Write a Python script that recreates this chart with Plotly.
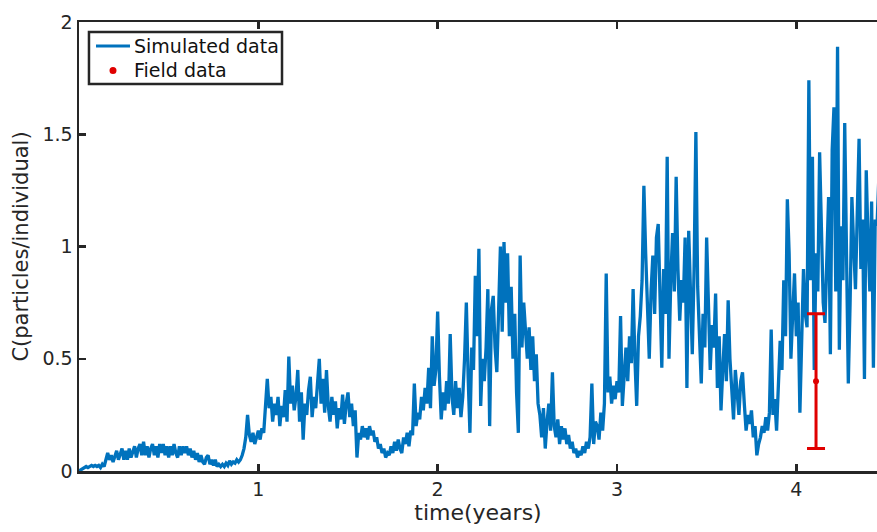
import plotly.graph_objects as go

DT = 0.01  # sampling step of the simulated series (years)

# Simulated concentration C (particles/individual) at 0.01-year steps
sim_c = [
    0.00, 0.005, 0.01, 0.015, 0.02, 0.015, 0.02, 0.025, 0.02, 0.025,
    0.02, 0.025, 0.015, 0.03, 0.02, 0.05, 0.08, 0.05, 0.07, 0.04,
    0.07, 0.09, 0.05, 0.08, 0.10, 0.05, 0.09, 0.05, 0.10, 0.06,
    0.09, 0.11, 0.06, 0.10, 0.12, 0.07, 0.13, 0.07, 0.11, 0.06,
    0.10, 0.12, 0.07, 0.11, 0.06, 0.12, 0.08, 0.12, 0.07, 0.11,
    0.06, 0.11, 0.07, 0.12, 0.08, 0.06, 0.11, 0.07, 0.11, 0.08,
    0.11, 0.07, 0.10, 0.06, 0.09, 0.05, 0.08, 0.04, 0.07, 0.04,
    0.03, 0.06, 0.07, 0.03, 0.05, 0.025, 0.05, 0.02, 0.03, 0.02,
    0.03, 0.02, 0.035, 0.025, 0.045, 0.03, 0.04, 0.035, 0.05, 0.04,
    0.05, 0.07, 0.10, 0.15, 0.25, 0.16, 0.13, 0.17, 0.12, 0.15,
    0.18, 0.14, 0.19, 0.17, 0.30, 0.41, 0.28, 0.33, 0.22, 0.30,
    0.25, 0.33, 0.20, 0.29, 0.24, 0.36, 0.22, 0.51, 0.30, 0.38,
    0.27, 0.33, 0.45, 0.22, 0.35, 0.14, 0.30, 0.25, 0.36, 0.42,
    0.24, 0.33, 0.28, 0.38, 0.50, 0.30, 0.41, 0.26, 0.45, 0.29,
    0.22, 0.33, 0.25, 0.31, 0.19, 0.28, 0.23, 0.34, 0.21, 0.30,
    0.35, 0.24, 0.30, 0.20, 0.27, 0.06, 0.17, 0.14, 0.20, 0.15,
    0.19, 0.14, 0.20, 0.16, 0.18, 0.13, 0.15, 0.10, 0.12, 0.08,
    0.10, 0.06, 0.08, 0.07, 0.11, 0.08, 0.13, 0.09, 0.14, 0.10,
    0.08, 0.15, 0.12, 0.17, 0.11, 0.18, 0.16, 0.39, 0.20, 0.26,
    0.23, 0.33, 0.27, 0.37, 0.30, 0.46, 0.28, 0.60, 0.38, 0.45,
    0.71, 0.42, 0.23, 0.35, 0.27, 0.40, 0.30, 0.61, 0.33, 0.25,
    0.40, 0.28, 0.37, 0.24, 0.33, 0.50, 0.75, 0.42, 0.17, 0.55,
    0.45, 0.87, 0.60, 0.99, 0.29, 0.50, 0.40, 0.55, 0.81, 0.20,
    0.72, 0.78, 0.55, 0.44, 0.68, 1.00, 0.62, 1.02, 0.75, 0.97,
    0.60, 0.82, 0.50, 0.70, 0.35, 0.17, 0.96, 0.55, 0.75, 0.62,
    0.50, 0.64, 0.45, 0.60, 0.40, 0.52, 0.30, 0.25, 0.15, 0.28,
    0.10, 0.22, 0.30, 0.18, 0.44, 0.20, 0.15, 0.23, 0.12, 0.20,
    0.14, 0.19, 0.12, 0.16, 0.10, 0.13, 0.08, 0.10, 0.06, 0.09,
    0.07, 0.11, 0.08, 0.13, 0.10, 0.15, 0.39, 0.12, 0.22, 0.20,
    0.14, 0.26, 0.18, 0.30, 0.88, 0.35, 0.42, 0.30, 0.38, 0.32,
    0.40, 0.35, 0.69, 0.29, 0.45, 0.55, 0.40, 0.60, 0.48, 0.81,
    0.50, 0.29, 0.60, 0.69, 0.85, 1.27, 0.97, 0.75, 0.50, 0.80,
    0.96, 0.70, 1.04, 1.10, 0.75, 0.46, 0.90, 0.70, 1.40, 0.50,
    0.85, 1.06, 0.80, 1.31, 0.90, 0.67, 0.85, 0.75, 1.04, 0.37,
    1.07, 0.80, 0.52, 0.90, 1.51, 0.82, 0.60, 0.39, 0.70, 0.55,
    1.04, 0.75, 0.45, 0.65, 0.55, 0.79, 0.37, 0.60, 0.27, 0.45,
    0.61, 0.40, 0.76, 0.50, 0.33, 0.23, 0.45, 0.35, 0.25, 0.40,
    0.44, 0.30, 0.18, 0.25, 0.21, 0.27, 0.15, 0.20, 0.07, 0.12,
    0.15, 0.20, 0.17, 0.24, 0.18, 0.26, 0.63, 0.25, 0.32, 0.18,
    0.35, 0.58, 0.45, 0.85, 0.60, 1.21, 0.97, 0.50, 0.70, 0.88,
    0.60, 0.75, 0.26, 0.55, 0.90, 0.70, 0.64, 1.74, 0.85, 1.40,
    0.45, 0.97, 0.80, 1.42, 1.03, 0.75, 0.66, 1.00, 1.22, 0.52,
    1.43, 1.62, 0.80, 1.89, 0.54, 1.09, 0.85, 1.55, 0.97, 0.39,
    0.75, 1.22, 1.00, 0.81, 1.15, 1.48, 0.90, 1.12, 0.41, 1.34,
    1.03, 0.80, 1.20, 0.46, 1.12, 1.09, 1.30, 1.00,
]
sim_t = [i * DT for i in range(len(sim_c))]

# Field data (mean and error)
field_t = [4.11]
field_c = [0.40]
field_err = [0.30]

x_tickvals = [1, 2, 3, 4]
y_tickvals = [0, 0.5, 1, 1.5, 2]
legend_labels = ["Simulated data", "Field data"]

BLUE = "#0072BD"
RED = "#E00000"
AX = "#262626"
FONT = "DejaVu Sans, sans-serif"

fig = go.Figure()
fig.add_trace(go.Scatter(
    x=sim_t, y=sim_c, mode="lines", name=legend_labels[0],
    line=dict(color=BLUE, width=3.3),
))
fig.add_trace(go.Scatter(
    x=field_t, y=field_c, mode="markers", name=legend_labels[1],
    marker=dict(color=RED, size=6),
    error_y=dict(type="data", array=field_err, visible=True,
                 color=RED, thickness=3, width=9),
))

# Legend box (drawn by hand so its compact MATLAB-style spacing can be matched)
shapes = [
    dict(type="rect", xref="paper", yref="paper", x0=0.0125, x1=0.2544, y0=0.8619, y1=0.9777,
         line=dict(color=AX, width=2.5), fillcolor="white", layer="above"),
    dict(type="line", xref="paper", yref="paper", x0=0.0213, x1=0.0639, y0=0.9465, y1=0.9465,
         line=dict(color=BLUE, width=3), layer="above"),
    dict(type="circle", xref="paper", yref="paper", xsizemode="pixel", ysizemode="pixel",
         xanchor=0.0426, yanchor=0.892, x0=-3.5, x1=3.5, y0=-3.5, y1=3.5,
         fillcolor=RED, line=dict(color=RED, width=0), layer="above"),
]
annotations = [
    dict(xref="paper", yref="paper", x=0.0665, y=0.9465, xanchor="left", yanchor="middle",
         text=legend_labels[0], showarrow=False, font=dict(family=FONT, size=19, color="#111111")),
    dict(xref="paper", yref="paper", x=0.0665, y=0.892, xanchor="left", yanchor="middle",
         text=legend_labels[1], showarrow=False, font=dict(family=FONT, size=19, color="#111111")),
]

fig.update_layout(
    width=877, height=532,
    margin=dict(l=79, r=0, t=22, b=61),
    paper_bgcolor="white", plot_bgcolor="white",
    font=dict(family=FONT, color=AX, size=19),
    showlegend=False,
    shapes=shapes, annotations=annotations,
    xaxis=dict(
        range=[0, 4.45], tickvals=x_tickvals, ticktext=[str(v) for v in x_tickvals],
        showline=True, linecolor=AX, linewidth=2.5, mirror="ticks",
        ticks="inside", ticklen=7, tickwidth=2.5, tickcolor=AX,
        showgrid=False, zeroline=False,
        title=dict(text="time(years)", font=dict(family=FONT, size=22, color=AX), standoff=4),
        tickfont=dict(family=FONT, size=19, color=AX),
    ),
    yaxis=dict(
        range=[0, 2], tickvals=y_tickvals, ticktext=["0", "0.5", "1", "1.5", "2"],
        showline=True, linecolor=AX, linewidth=2.5, mirror=False,
        ticks="inside", ticklen=7, tickwidth=2.5, tickcolor=AX,
        showgrid=False, zeroline=False,
        title=dict(text="C(particles/individual)", font=dict(family=FONT, size=21, color=AX), standoff=8),
        tickfont=dict(family=FONT, size=19, color=AX),
    ),
)

# Remove the browser's default 8px page margin so the 877x532 figure fills the window exactly
fig.write_html(
    "out.html",
    config={"displayModeBar": False, "staticPlot": True},
    post_script="document.body.style.margin='0';document.body.style.overflow='hidden';",
)
